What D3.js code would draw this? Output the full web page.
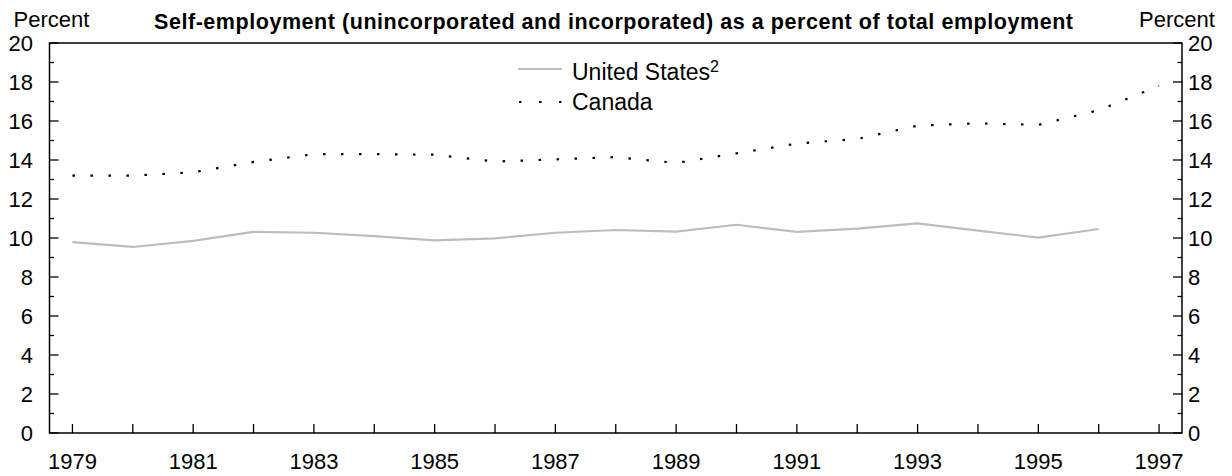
<!DOCTYPE html>
<html>
<head>
<meta charset="utf-8">
<script src="https://cdn.jsdelivr.net/npm/d3@7/dist/d3.min.js"></script>
<style>
  body { margin: 0; background: #fff; }
  text { font-family: "Liberation Sans", Arial, sans-serif; fill: #000; }
</style>
</head>
<body>
<div id="chart"></div>
<script>
var years = [1979, 1980, 1981, 1982, 1983, 1984, 1985, 1986, 1987, 1988,
             1989, 1990, 1991, 1992, 1993, 1994, 1995, 1996, 1997];
var usValues = [9.79, 9.54, 9.85, 10.31, 10.27, 10.1, 9.88, 9.98, 10.27, 10.41,
                10.33, 10.68, 10.31, 10.48, 10.75, 10.38, 10.02, 10.46];
var canadaValues = [13.2, 13.2, 13.37, 13.9, 14.3, 14.3, 14.27, 13.92, 14.03, 14.15,
                    13.85, 14.34, 14.84, 15.08, 15.76, 15.88, 15.8, 16.55, 17.8];
var yTicks = [0, 2, 4, 6, 8, 10, 12, 14, 16, 18, 20];
var xLabels = [1979, 1981, 1983, 1985, 1987, 1989, 1991, 1993, 1995, 1997];

var width = 1232,
    height = 476;
// plot box (note: "top" is taken by window.top, so use other names)
var plotL = 49.5, plotR = 1182, plotT = 43, plotB = 433;

var svg = d3.select("#chart").append("svg")
    .attr("width", width)
    .attr("height", height);

var x = d3.scaleLinear().domain([1978.62, 1997.38]).range([plotL, plotR]);
var y = d3.scaleLinear().domain([0, 20]).range([plotB, plotT]);

// title and unit labels
svg.append("text")
    .attr("x", 154)
    .attr("y", 29)
    .attr("textLength", 919)
    .attr("lengthAdjust", "spacing")
    .style("font-size", "21.5px")
    .style("font-weight", "bold")
    .text("Self-employment (unincorporated and incorporated) as a percent of total employment");

svg.append("text")
    .attr("x", 51.5)
    .attr("y", 27)
    .attr("text-anchor", "middle")
    .style("font-size", "22px")
    .text("Percent");

svg.append("text")
    .attr("x", 1177)
    .attr("y", 27)
    .attr("text-anchor", "middle")
    .style("font-size", "22px")
    .text("Percent");

// frame
svg.append("rect")
    .attr("x", plotL)
    .attr("y", plotT)
    .attr("width", plotR - plotL)
    .attr("height", plotB - plotT)
    .attr("fill", "none")
    .attr("stroke", "#000")
    .attr("stroke-width", 1.5);

// y ticks, minor ones at odd values
var allY = yTicks.concat(d3.range(1, 20, 2));
svg.append("g").selectAll("line").data(allY)
    .enter().append("line")
    .attr("x1", plotL)
    .attr("x2", function (d) { return plotL + (d % 2 == 0 ? 9 : 4.5); })
    .attr("y1", function (d) { return y(d); })
    .attr("y2", function (d) { return y(d); })
    .attr("stroke", "#000")
    .attr("stroke-width", 1.3);

svg.append("g").selectAll("line").data(allY)
    .enter().append("line")
    .attr("x1", plotR)
    .attr("x2", function (d) { return plotR - (d % 2 == 0 ? 9 : 4.5); })
    .attr("y1", function (d) { return y(d); })
    .attr("y2", function (d) { return y(d); })
    .attr("stroke", "#000")
    .attr("stroke-width", 1.3);

svg.append("g").selectAll("text").data(yTicks)
    .enter().append("text")
    .attr("x", 33)
    .attr("y", function (d) { return y(d); })
    .attr("dy", "0.36em")
    .attr("text-anchor", "end")
    .style("font-size", "22px")
    .text(function (d) { return d; });

svg.append("g").selectAll("text").data(yTicks)
    .enter().append("text")
    .attr("x", 1188)
    .attr("y", function (d) { return y(d); })
    .attr("dy", "0.36em")
    .style("font-size", "22px")
    .text(function (d) { return d; });

// x ticks
svg.append("g").selectAll("line").data(years)
    .enter().append("line")
    .attr("x1", function (d) { return x(d); })
    .attr("x2", function (d) { return x(d); })
    .attr("y1", plotB)
    .attr("y2", plotB - 9)
    .attr("stroke", "#000")
    .attr("stroke-width", 1.3);

svg.append("g").selectAll("text").data(xLabels)
    .enter().append("text")
    .attr("x", function (d) { return x(d); })
    .attr("y", 469)
    .attr("text-anchor", "middle")
    .style("font-size", "22px")
    .text(function (d) { return d; });

// series
var line = d3.line()
    .x(function (d, i) { return x(years[i]); })
    .y(function (d) { return y(d); });

svg.append("path")
    .datum(usValues)
    .attr("d", line)
    .attr("fill", "none")
    .attr("stroke", "#bdbdbd")
    .attr("stroke-width", 2.2);

svg.append("path")
    .datum(canadaValues)
    .attr("d", line)
    .attr("fill", "none")
    .attr("stroke", "#000")
    .attr("stroke-width", 2.2)
    .attr("stroke-dasharray", "2.5,15.5");

// legend
svg.append("line")
    .attr("x1", 518).attr("x2", 562)
    .attr("y1", 69).attr("y2", 69)
    .attr("stroke", "#bdbdbd")
    .attr("stroke-width", 2.2);

var usLabel = svg.append("text")
    .attr("x", 572)
    .attr("y", 80)
    .style("font-size", "23px")
    .text("United States");
usLabel.append("tspan")
    .attr("dy", "-0.5em")
    .style("font-size", "16px")
    .text("2");

svg.append("line")
    .attr("x1", 519).attr("x2", 562)
    .attr("y1", 102).attr("y2", 102)
    .attr("stroke", "#000")
    .attr("stroke-width", 2.2)
    .attr("stroke-dasharray", "2.5,17.5");

svg.append("text")
    .attr("x", 572)
    .attr("y", 110)
    .style("font-size", "23px")
    .text("Canada");
</script>
</body>
</html>
